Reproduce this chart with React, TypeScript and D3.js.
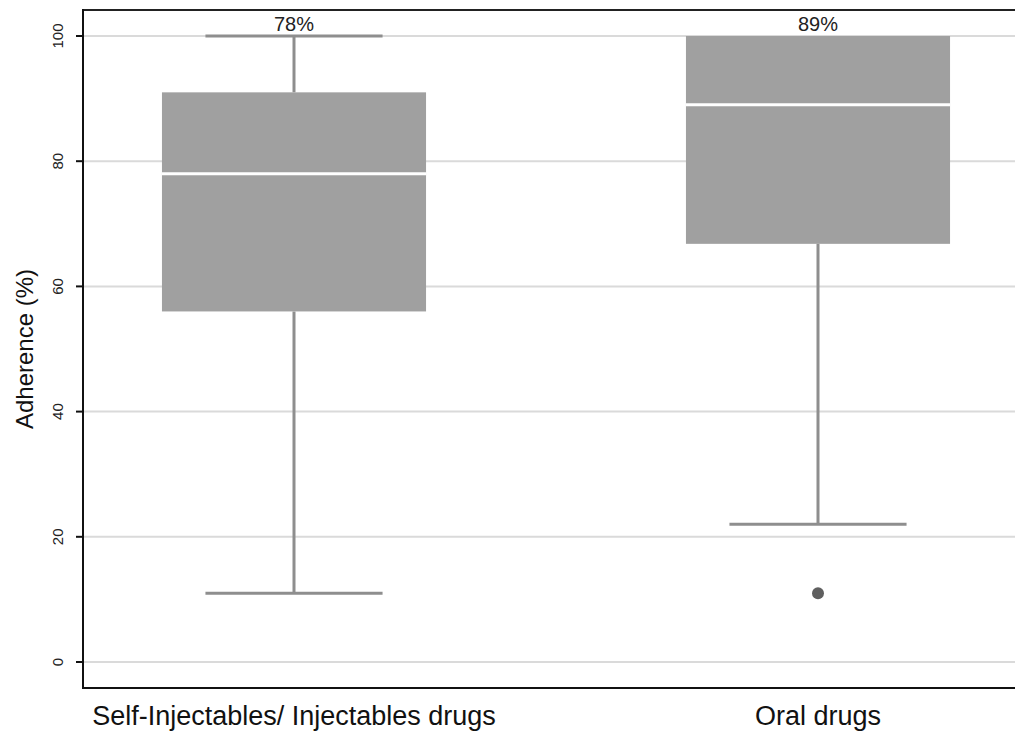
import React, { useEffect } from "react";
import * as d3 from "d3";

const categories = ["Self-Injectables/ Injectables drugs", "Oral drugs"];
const medians = [78, 89];
const q1s = [56, 66.8];
const q3s = [91, 100];
const whiskerLows = [11, 22];
const whiskerHighs = [100, 100];
const outliers = [[], [11]];
const medianLabels = ["78%", "89%"];
const yTicks = [0, 20, 40, 60, 80, 100];

const width = 1015;
const height = 731;
const plotLeft = 83;
const plotTop = 10;
const plotBottom = 688;

export default function App() {
  useEffect(() => {
    document.body.style.margin = "0";
  }, []);

  const y = d3.scaleLinear().domain([-4.153, 104.153]).range([plotBottom, plotTop]);
  const x = d3.scaleBand<string>().domain(categories).range([32, 1080]);
  const boxW = x.bandwidth() * 0.504;
  const capW = x.bandwidth() * 0.338;
  const font = "Arial, 'Liberation Sans', Helvetica, sans-serif";

  return (
    <svg width={width} height={height} style={{ display: "block", background: "#fff" }} fontFamily={font}>
      {/* grid */}
      {yTicks.map((t) => (
        <line key={"g" + t} x1={plotLeft} x2={width} y1={y(t)} y2={y(t)} stroke="#dadada" strokeWidth={2} />
      ))}

      {/* boxes */}
      {categories.map((c, i) => {
        const cx = x(c)! + x.bandwidth() / 2;
        return (
          <g key={c}>
            <line x1={cx} x2={cx} y1={y(q3s[i])} y2={y(whiskerHighs[i])} stroke="#8e8e8e" strokeWidth={3} />
            <line x1={cx} x2={cx} y1={y(q1s[i])} y2={y(whiskerLows[i])} stroke="#8e8e8e" strokeWidth={3} />
            {whiskerHighs[i] > q3s[i] && (
              <line x1={cx - capW / 2} x2={cx + capW / 2} y1={y(whiskerHighs[i])} y2={y(whiskerHighs[i])} stroke="#8e8e8e" strokeWidth={3} />
            )}
            <line x1={cx - capW / 2} x2={cx + capW / 2} y1={y(whiskerLows[i])} y2={y(whiskerLows[i])} stroke="#8e8e8e" strokeWidth={3} />
            <rect x={cx - boxW / 2} y={y(q3s[i])} width={boxW} height={y(q1s[i]) - y(q3s[i])} fill="#a0a0a0" />
            <line x1={cx - boxW / 2} x2={cx + boxW / 2} y1={y(medians[i])} y2={y(medians[i])} stroke="#ffffff" strokeWidth={3} />
            {outliers[i].map((o, j) => (
              <circle key={j} cx={cx} cy={y(o)} r={6} fill="#5f5f5f" />
            ))}
            <text x={cx} y={31} textAnchor="middle" fontSize={20} fill="#222">
              {medianLabels[i]}
            </text>
            <text x={cx} y={725} textAnchor="middle" fontSize={27} fill="#111">
              {c}
            </text>
          </g>
        );
      })}

      {/* frame */}
      <line x1={plotLeft} x2={width} y1={plotTop} y2={plotTop} stroke="#222" strokeWidth={2} />
      <line x1={plotLeft} x2={width} y1={plotBottom} y2={plotBottom} stroke="#111" strokeWidth={2} />
      <line x1={plotLeft} x2={plotLeft} y1={plotTop - 1} y2={plotBottom + 1} stroke="#111" strokeWidth={2} />

      {/* y ticks */}
      {yTicks.map((t) => (
        <g key={"t" + t}>
          <line x1={plotLeft - 7} x2={plotLeft} y1={y(t)} y2={y(t)} stroke="#111" strokeWidth={2} />
          <text transform={`translate(63,${y(t)}) rotate(-90)`} textAnchor="middle" fontSize={15} fill="#222">
            {t}
          </text>
        </g>
      ))}

      <text transform={`translate(33,${y(50)}) rotate(-90)`} textAnchor="middle" fontSize={24} fill="#111">
        Adherence (%)
      </text>
    </svg>
  );
}
